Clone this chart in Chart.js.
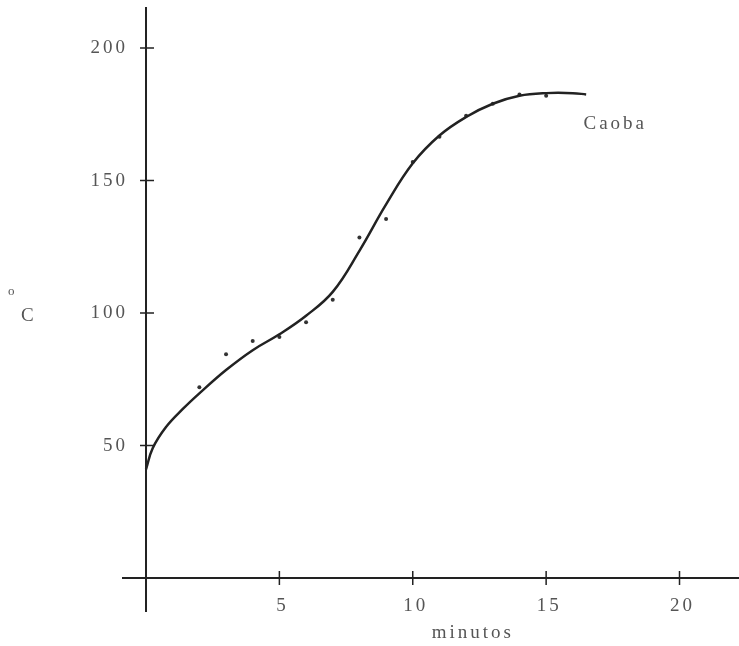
<!DOCTYPE html>
<html>
<head>
<meta charset="utf-8">
<script src="https://cdn.jsdelivr.net/npm/chart.js@4/dist/chart.umd.min.js"></script>
<style>
  body { margin: 0; background: #fff; }
  canvas { display: block; }
</style>
</head>
<body>
<canvas id="chart" width="739" height="646"></canvas>
<script>
// measured points (minutos, oC)
const minutes = [2, 3, 4, 5, 6, 7, 8, 9, 10, 11, 12, 13, 14, 15];
const tempC = [72, 84.5, 89.5, 91, 96.5, 105, 128.5, 135.5, 157, 166.5, 174.5, 179, 182.5, 182];

// fitted curve
const curveX = [0, 0.25, 0.75, 1.4, 2, 3, 4, 5, 6, 7, 8, 9, 10, 11, 12, 13, 14, 15, 16, 16.5];
const curveY = [41, 49, 57, 64, 69.7, 78.5, 86, 92, 99, 108, 123.5, 141, 156.5, 167, 174, 179, 182, 183, 183, 182.5];

const xTicks = [5, 10, 15, 20];
const yTicks = [50, 100, 150, 200];
const seriesName = "Caoba";
const xTitle = "minutos";

const INK = "#222";
const TEXT = "#555";
const FONT = "19px 'Liberation Serif', serif";

const axesPlugin = {
  id: "axesPlugin",
  beforeDatasetsDraw(chart) {
    const c = chart.ctx;
    const xs = chart.scales.x;
    const ys = chart.scales.y;
    const x0 = xs.getPixelForValue(0);
    const y0 = ys.getPixelForValue(0);
    const area = chart.chartArea;

    c.save();
    c.strokeStyle = INK;
    c.lineWidth = 2;
    c.beginPath();
    c.moveTo(area.left, y0);
    c.lineTo(chart.width, y0);
    c.moveTo(x0, area.top);
    c.lineTo(x0, area.bottom);
    c.stroke();

    c.lineWidth = 1.5;
    c.beginPath();
    xTicks.forEach(v => {
      const px = xs.getPixelForValue(v);
      c.moveTo(px, y0 - 7);
      c.lineTo(px, y0 + 7);
    });
    yTicks.forEach(v => {
      const py = ys.getPixelForValue(v);
      c.moveTo(x0 - 6, py);
      c.lineTo(x0 + 8, py);
    });
    c.stroke();

    c.fillStyle = TEXT;
    c.font = FONT;
    c.letterSpacing = "3px";
    c.textBaseline = "middle";
    c.textAlign = "center";
    xTicks.forEach(v => {
      c.fillText(String(v), xs.getPixelForValue(v) + 3, y0 + 28);
    });
    c.textAlign = "right";
    yTicks.forEach(v => {
      c.fillText(String(v), x0 - 18, ys.getPixelForValue(v));
    });

    c.textAlign = "center";
    c.fillText(xTitle, xs.getPixelForValue(12.25), y0 + 55);

    c.textAlign = "left";
    c.fillText(seriesName, xs.getPixelForValue(16.4), ys.getPixelForValue(171.5));

    // oC label
    c.letterSpacing = "0px";
    c.font = "13px 'Liberation Serif', serif";
    c.fillText("o", 8, 292);
    c.font = "19px 'Liberation Serif', serif";
    c.fillText("C", 21, 316);
    c.restore();
  }
};

new Chart(document.getElementById("chart"), {
  type: "line",
  data: {
    datasets: [{
      label: seriesName,
      data: curveX.map((x, i) => ({ x: x, y: curveY[i] })),
      borderColor: INK,
      borderWidth: 2.5,
      pointRadius: 0,
      tension: 0.4,
      fill: false,
    }, {
      type: "scatter",
      label: "datos",
      data: minutes.map((x, i) => ({ x: x, y: tempC[i] })),
      backgroundColor: "#333",
      borderWidth: 0,
      pointRadius: 2,
    }],
  },
  options: {
    responsive: false,
    animation: false,
    devicePixelRatio: 1,
    layout: {
      padding: { left: 122, top: 7, right: 0, bottom: 34 },
    },
    plugins: {
      legend: { display: false },
      tooltip: { enabled: false },
    },
    scales: {
      x: {
        type: "linear",
        min: -0.9,
        max: 22.08,
        display: false,
      },
      y: {
        type: "linear",
        min: -12.8,
        max: 215.5,
        display: false,
      },
    },
  },
  plugins: [axesPlugin],
});
</script>
</body>
</html>
